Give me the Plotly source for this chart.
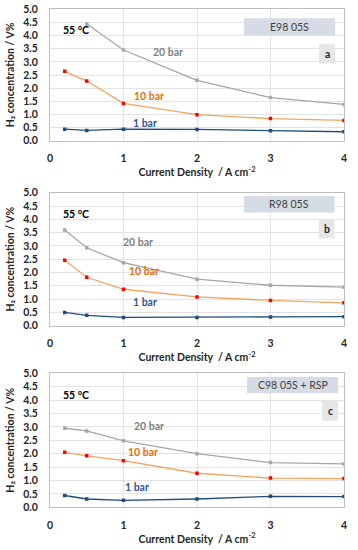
import plotly.graph_objects as go

# ---- data ----
current_density = [0.2, 0.5, 1, 2, 3, 4]
panel_names = ["E98 05S", "R98 05S", "C98 05S + RSP"]
panel_letters = ["a", "b", "c"]

a_1bar = [0.44, 0.39, 0.44, 0.43, 0.38, 0.34]
a_10bar = [2.64, 2.27, 1.42, 0.99, 0.84, 0.77]
a_20bar = [None, 4.44, 3.45, 2.30, 1.64, 1.38]

b_1bar = [0.50, 0.39, 0.31, 0.31, 0.33, 0.34]
b_10bar = [2.46, 1.82, 1.37, 1.08, 0.95, 0.86]
b_20bar = [3.60, 2.93, 2.37, 1.75, 1.52, 1.45]

c_1bar = [0.44, 0.31, 0.26, 0.31, 0.41, 0.40]
c_10bar = [2.05, 1.92, 1.74, 1.27, 1.09, 1.07]
c_20bar = [2.95, 2.85, 2.48, 2.00, 1.67, 1.62]

series_labels = ["1 bar", "10 bar", "20 bar"]
y_ticks = [0, 0.5, 1, 1.5, 2, 2.5, 3, 3.5, 4, 4.5, 5]
x_ticks = [0, 1, 2, 3, 4]

panels = [
    (a_1bar, a_10bar, a_20bar),
    (b_1bar, b_10bar, b_20bar),
    (c_1bar, c_10bar, c_20bar),
]

# label positions (data coords) per panel: (x, y) for 1 bar, 10 bar, 20 bar
label_pos = [
    [(1.29, 0.67), (1.35, 1.70), (1.60, 3.38)],
    [(1.29, 0.90), (1.28, 2.07), (1.20, 3.16)],
    [(1.18, 0.77), (1.27, 2.05), (1.35, 3.03)],
]
name_box = [(2.64, 3.88, 4.02, 4.66), (2.64, 3.87, 4.26, 4.88), (2.68, 3.92, 4.26, 4.86)]
letter_box = [(3.66, 3.88, 2.95, 3.67), (3.66, 3.87, 3.29, 3.97), (3.70, 3.92, 3.23, 3.98)]

W, H = 358, 550
x_dom = [50 / W, 344 / W]
y_px = [(9.3, 140.7), (192.7, 325.7), (373.3, 507.3)]

line_colors = ["#1F4E79", "#F4A460", "#A6A6A6"]
marker_colors = ["#1F4E79", "#FF0000", "#A6A6A6"]
text_colors = ["#2F5597", "#E46C0A", "#808080"]

FONT = "Lato, Open Sans, sans-serif"
FS_TICK = 10.5
FS_TITLE = 10.5
FS_LBL = 10.5

fig = go.Figure()
layout = dict(
    width=W, height=H,
    margin=dict(l=0, r=0, t=0, b=0),
    paper_bgcolor="white", plot_bgcolor="white",
    showlegend=False,
    font=dict(family=FONT, size=FS_TICK, color="#262626"),
)
annotations = []
shapes = []

for i, series in enumerate(panels):
    sfx = "" if i == 0 else str(i + 1)
    xa, ya = "x" + sfx, "y" + sfx
    top, bot = y_px[i]
    layout["xaxis" + sfx] = dict(
        domain=x_dom, range=[0, 4], anchor=ya, tickvals=x_ticks,
        automargin=False,
        showgrid=True, gridcolor="#E3E3E3", gridwidth=1,
        showline=True, linecolor="#BFBFBF", linewidth=1, mirror=True,
        ticks="outside", ticklen=8, tickcolor="rgba(0,0,0,0)", zeroline=False,
        tickfont=dict(family=FONT, size=FS_TICK, color="#262626", weight="bold"),
        title=dict(text="<b>Current Density  / A cm<sup>-2</sup></b>",
                   font=dict(family=FONT, size=FS_TITLE, color="#262626"), standoff=5),
    )
    layout["yaxis" + sfx] = dict(
        domain=[1 - bot / H, 1 - top / H], range=[0, 5], anchor=xa,
        automargin=False,
        tickvals=y_ticks, tickformat=".1f",
        showgrid=True, gridcolor="#E3E3E3", gridwidth=1,
        showline=True, linecolor="#BFBFBF", linewidth=1, mirror=True,
        ticks="outside", ticklen=9, tickcolor="rgba(0,0,0,0)", zeroline=False,
        tickfont=dict(family=FONT, size=FS_TICK, color="#262626", weight="bold"),
        title=dict(text="<b>H₂ concentration / V%</b>",
                   font=dict(family=FONT, size=FS_TITLE, color="#262626"), standoff=6),
    )
    for k, vals in enumerate(series):
        fig.add_trace(go.Scatter(
            x=current_density, y=vals, xaxis=xa, yaxis=ya,
            mode="lines+markers",
            line=dict(color=line_colors[k], width=1.3),
            marker=dict(symbol="square", size=3.5, color=marker_colors[k]),
            connectgaps=False, name=series_labels[k],
        ))
        lx, ly = label_pos[i][k]
        annotations.append(dict(
            x=lx, y=ly, xref=xa, yref=ya, text="<b>" + series_labels[k] + "</b>",
            showarrow=False, font=dict(family=FONT, size=FS_LBL, color=text_colors[k]),
        ))
    annotations.append(dict(
        x=0.35, y=4.2, xref=xa, yref=ya, text="<b>55 °C</b>", showarrow=False,
        font=dict(family=FONT, size=FS_LBL, color="#000000"),
    ))
    x0, x1, y0, y1 = name_box[i]
    shapes.append(dict(type="rect", xref=xa, yref=ya, x0=x0, x1=x1, y0=y0, y1=y1,
                       fillcolor="#D6DCE5", line=dict(width=0), layer="above"))
    annotations.append(dict(
        x=(x0 + x1) / 2, y=(y0 + y1) / 2, xref=xa, yref=ya, text=panel_names[i],
        showarrow=False, font=dict(family=FONT, size=FS_LBL, color="#404040"),
    ))
    x0, x1, y0, y1 = letter_box[i]
    shapes.append(dict(type="rect", xref=xa, yref=ya, x0=x0, x1=x1, y0=y0, y1=y1,
                       fillcolor="#E7E6E6", line=dict(width=0), layer="above"))
    annotations.append(dict(
        x=(x0 + x1) / 2, y=(y0 + y1) / 2, xref=xa, yref=ya,
        text="<b>" + panel_letters[i] + "</b>",
        showarrow=False, font=dict(family=FONT, size=FS_LBL, color="#262626"),
    ))

layout["annotations"] = annotations
layout["shapes"] = shapes
fig.update_layout(**layout)
fig.write_html(
    "out.html",
    config={"displayModeBar": False},
    post_script="document.body.style.margin='0';document.body.style.padding='0';",
)
